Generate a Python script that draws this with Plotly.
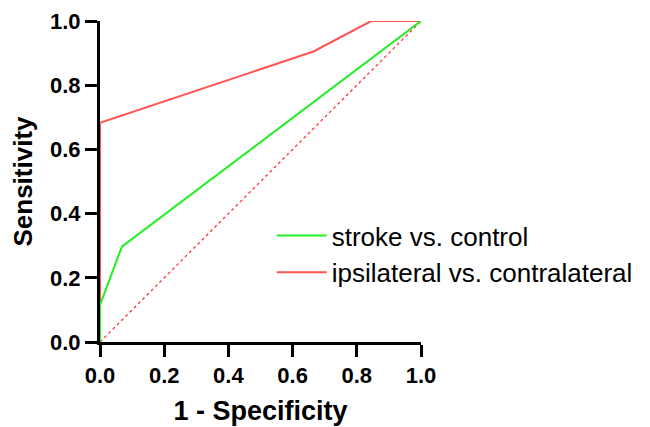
import plotly.graph_objects as go

# Data
stroke_fpr = [0.0, 0.0, 0.068, 1.0]
stroke_tpr = [0.0, 0.115, 0.297, 1.0]
ipsi_fpr = [0.0, 0.0, 0.665, 0.845, 1.0]
ipsi_tpr = [0.0, 0.683, 0.905, 1.0, 1.0]
ref_x = [0.0, 1.0]
ref_y = [0.0, 1.0]
tick_vals = [0.0, 0.2, 0.4, 0.6, 0.8, 1.0]
tick_text = ["0.0", "0.2", "0.4", "0.6", "0.8", "1.0"]

FONT = "Arial, Liberation Sans, sans-serif"

fig = go.Figure()
fig.add_trace(go.Scatter(x=ref_x, y=ref_y, mode="lines", showlegend=False,
                         line=dict(color="#ff3333", width=1.3, dash="dot"),
                         hoverinfo="skip"))
fig.add_trace(go.Scatter(x=ipsi_fpr, y=ipsi_tpr, mode="lines",
                         name="ipsilateral vs. contralateral",
                         line=dict(color="#ff5555", width=2)))
fig.add_trace(go.Scatter(x=stroke_fpr, y=stroke_tpr, mode="lines",
                         name="stroke vs. control",
                         line=dict(color="#22ee22", width=2)))

axis_common = dict(
    range=[0, 1], tickvals=tick_vals, ticktext=tick_text,
    showgrid=False, zeroline=False, showline=True, linecolor="black", linewidth=3,
    ticks="outside", ticklen=12, tickwidth=3, tickcolor="black",
    tickfont=dict(family=FONT, size=22, color="black", weight="bold"),
    layer="below traces", automargin=False,
)

fig.update_layout(
    width=642, height=419,
    margin=dict(l=92, r=229, t=13, b=85),
    paper_bgcolor="white", plot_bgcolor="white",
    xaxis=dict(**axis_common,
               title=dict(text="1 - Specificity", standoff=14,
                          font=dict(family=FONT, size=27, color="black", weight="bold"))),
    yaxis=dict(**axis_common,
               title=dict(text="Sensitivity", standoff=12,
                          font=dict(family=FONT, size=26, color="black", weight="bold"))),
    legend=dict(x=0.535, y=0.405, xanchor="left", yanchor="top",
                traceorder="reversed", itemwidth=50,
                font=dict(family=FONT, size=26, color="black"),
                bgcolor="rgba(0,0,0,0)"),
    showlegend=True,
)

fig.write_html("out.html")
